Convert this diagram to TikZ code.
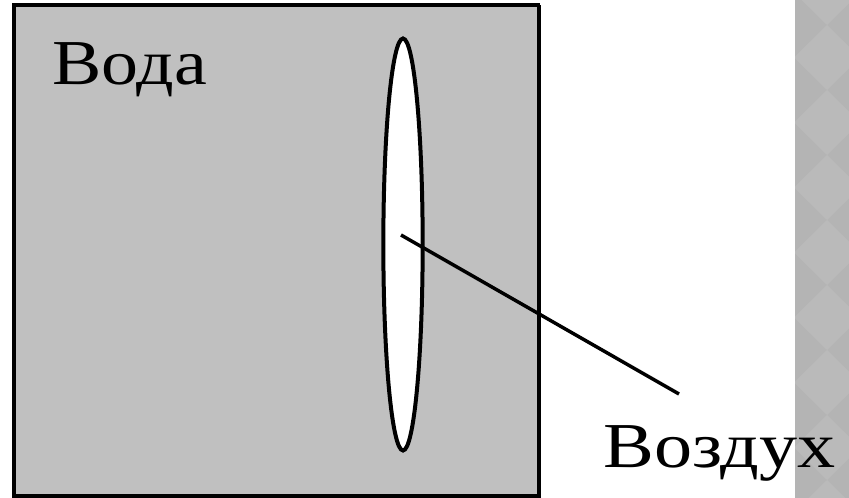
\documentclass[tikz,border=0pt]{standalone}
\usepackage{fontspec}
\setmainfont{Liberation Serif}
\usetikzlibrary{shapes.geometric}
\definecolor{water}{HTML}{C0C0C0}
\definecolor{stripbase}{HTML}{B4B4B4}
\definecolor{stripdia}{HTML}{BABABA}
\tikzset{
  px/.style={x=0.75pt,y=-0.75pt},
  label text/.style={font=\fontsize{48}{48}\selectfont, inner sep=0pt, anchor=base west}
}
\begin{document}
\begin{tikzpicture}[px]
\useasboundingbox (0,0) rectangle (849,498);
\fill[white] (0,0) rectangle (849,498);
% decorative strip
\fill[stripbase] (795,0) rectangle (849,498);
\begin{scope}
\clip (795,0) rectangle (849,498);
\foreach \k in {-1,...,8} {
  \fill[stripdia] (827,{25+65*\k}) -- ({827+33},{57.5+65*\k}) -- (827,{90+65*\k}) -- ({827-33},{57.5+65*\k}) -- cycle;
}
\end{scope}
% water square
\draw[fill=water, line width=2.4pt] (14,5) rectangle (538.5,496);
\fill[black] (537,5) rectangle (541,498);
\fill[black] (14,494.5) rectangle (541,498);
% air bubble
\node[ellipse, draw, fill=white, line width=3pt, minimum width=29.5pt, minimum height=309pt, inner sep=0pt] (air) at (403,244.5) {};
\coordinate (start) at (401,235);
\coordinate (end) at (679,394);
\draw[line width=2.6pt] (start) -- (end);
% labels
\node[label text, xscale=1.155] (voda) at (52,85) {Вода};
\node[label text, xscale=1.19] (vozduh) at (603,467) {Воздух};
\end{tikzpicture}
\end{document}
